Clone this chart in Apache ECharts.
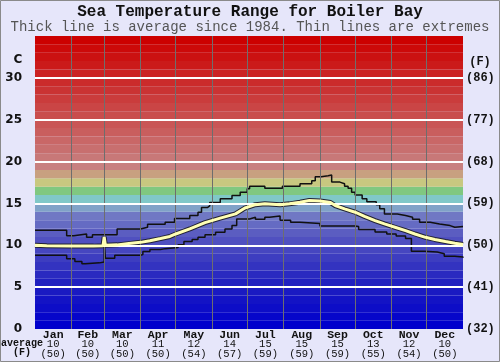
<!DOCTYPE html>
<html>
<head>
<meta charset="utf-8">
<script src="https://cdn.jsdelivr.net/npm/echarts@6/dist/echarts.min.js"></script>
<style>
html, body { margin: 0; padding: 0; background: #e6e6fa; }
#chart { width: 500px; height: 362px; }
</style>
</head>
<body>
<div id="chart"></div>
<script>
// month labels and the monthly averages printed under them
var months = ['Jan', 'Feb', 'Mar', 'Apr', 'May', 'Jun', 'Jul', 'Aug', 'Sep', 'Oct', 'Nov', 'Dec'];
var monthDays = [31, 28, 31, 30, 31, 30, 31, 31, 30, 31, 30, 31];
var avgC = [10, 10, 10, 11, 12, 14, 15, 15, 15, 13, 12, 10];
var avgF = [50, 50, 50, 50, 54, 57, 59, 59, 59, 55, 54, 50];

// right axis tick labels (F)
var fTicks = ['(32)', '(41)', '(50)', '(59)', '(68)', '(77)', '(86)'];

// [day of year, deg C]
var upperExtreme = [
    [0, 11.8], [27, 11.15], [33, 11.35], [44, 10.95], [49, 11.25], [70, 11.95],
    [90, 12.15], [96, 12.5], [111, 12.75], [119, 13.2], [132, 13.55], [139, 13.95],
    [142, 14.5], [147, 14.7], [149, 15.1], [158, 15.55], [168, 15.95], [175, 16.35],
    [181, 16.75], [183, 17.05], [196, 16.8], [211, 17.05], [226, 17.35], [236, 17.7],
    [239, 18.2], [244, 18.3], [250, 18.4], [253, 17.55], [260, 17.35], [264, 17.05],
    [267, 16.8], [270, 16.35], [273, 16.0], [279, 15.55], [283, 15.2], [291, 14.85],
    [294, 14.35], [298, 13.75], [309, 13.55], [316, 13.35], [322, 13.1], [328, 12.75],
    [337, 12.55], [345, 12.35], [354, 12.15], [358, 12.25], [365, 12.25]
];
var lowerExtreme = [
    [0, 8.8], [27, 8.4], [34, 8.05], [40, 7.8], [43, 7.9], [55, 8.0], [59, 10.6],
    [60, 8.45], [68, 8.8], [90, 8.9], [92, 9.25], [98, 9.5], [107, 9.6], [111, 9.75],
    [122, 10.05], [127, 10.45], [134, 10.7], [139, 10.95], [145, 11.25], [154, 11.55],
    [162, 11.95], [168, 12.35], [172, 13.15], [183, 13.35], [188, 13.1], [196, 13.35],
    [200, 13.5], [209, 13.0], [218, 12.75], [226, 12.6], [243, 12.3], [273, 12.25],
    [276, 11.9], [290, 11.6], [300, 11.35], [308, 11.1], [316, 10.8], [321, 9.3],
    [332, 9.2], [343, 9.0], [349, 8.7], [358, 8.6], [365, 8.5]
];
var averageLine = [
    [0, 10.0], [10, 9.95], [30, 9.9], [50, 9.9], [58, 9.95], [59, 11.0], [60, 10.0],
    [70, 10.05], [80, 10.2], [90, 10.35], [98, 10.55], [107, 10.8], [115, 11.05],
    [120, 11.35], [132, 11.95], [145, 12.7], [158, 13.25], [171, 13.75], [179, 14.45],
    [188, 14.85], [196, 14.95], [209, 14.85], [217, 14.95], [226, 15.15], [234, 15.35],
    [243, 15.3], [252, 15.1], [256, 14.75], [264, 14.35], [273, 13.95], [281, 13.45],
    [290, 12.95], [298, 12.55], [307, 12.15], [316, 11.75], [324, 11.35], [333, 10.95],
    [341, 10.7], [350, 10.45], [358, 10.25], [365, 10.1]
];

var chart = echarts.init(document.getElementById('chart'));

var monthStarts = [0];
var monthMids = [];
for (var i = 0; i < monthDays.length; i++) {
    monthMids.push(monthStarts[i] + monthDays[i] / 2);
    monthStarts.push(monthStarts[i] + monthDays[i]);
}

// 1 degree colour bands, blue at the bottom to red at the top
var anchors = [
    [0, [0, 0, 204]], [5, [32, 32, 192]], [10, [80, 80, 192]], [13, [112, 120, 196]],
    [14, [128, 162, 200]], [15, [128, 200, 200]], [16, [128, 200, 128]],
    [17, [200, 200, 128]], [18, [200, 160, 128]], [19, [200, 128, 128]],
    [20, [200, 120, 120]], [34, [204, 0, 0]]
];
var bandColors = [];
for (var b = 0; b < 35; b++) {
    var k = 0;
    while (k < anchors.length - 2 && anchors[k + 1][0] <= b) k++;
    var a0 = anchors[k], a1 = anchors[k + 1];
    var t = Math.min(1, Math.max(0, (b - a0[0]) / (a1[0] - a0[0])));
    var c = a0[1].map(function (v, j) { return Math.round(v + (a1[1][j] - v) * t); });
    bandColors.push('rgb(' + c.join(',') + ')');
}

var gridLines = [];
for (var m = 1; m < 12; m++) {
    gridLines.push({ xAxis: monthStarts[m], lineStyle: { color: '#6e6e6e', width: 1, type: 'solid' } });
}
[5, 10, 15, 20, 25, 30].forEach(function (v) {
    gridLines.push({ yAxis: v, lineStyle: { color: '#ffffff', width: 2, type: 'solid' } });
});

var mono = 'Liberation Mono';

option = {
    backgroundColor: '#e6e6fa',
    animation: false,
    title: {
        text: 'Sea Temperature Range for Boiler Bay',
        subtext: 'Thick line is average since 1984. Thin lines are extremes',
        left: 'center',
        top: 0,
        padding: [4, 5],
        itemGap: 0,
        textStyle: { fontFamily: mono, fontWeight: 'bold', fontSize: 16, color: '#111' },
        subtextStyle: { fontFamily: mono, fontSize: 14, color: '#555' }
    },
    grid: { left: 35, right: 37, top: 36, bottom: 33 },
    xAxis: {
        type: 'value',
        min: 0,
        max: 365,
        axisLine: { show: false },
        axisTick: { show: false },
        splitLine: { show: false },
        axisLabel: {
            customValues: monthMids,
            margin: 1,
            formatter: function (v) {
                var idx = 0, best = 1e9;
                monthMids.forEach(function (mv, j) {
                    if (Math.abs(mv - v) < best) { best = Math.abs(mv - v); idx = j; }
                });
                return '{m|' + months[idx] + '}\n{v|' + avgC[idx] + '}\n{v|(' + avgF[idx] + ')}';
            },
            rich: {
                m: { fontFamily: mono, fontWeight: 'bold', fontSize: 11.5, lineHeight: 9.5, color: '#111' },
                v: { fontFamily: mono, fontSize: 10.5, lineHeight: 9.5, color: '#111' }
            }
        }
    },
    yAxis: [
        {
            type: 'value', min: 0, max: 35, interval: 5, position: 'left',
            axisLine: { show: false }, axisTick: { show: false }, splitLine: { show: false },
            axisLabel: {
                margin: 13,
                fontFamily: 'DejaVu Sans', fontWeight: 'bold', fontSize: 12, color: '#111',
                formatter: function (v) { return v <= 30 ? String(v) : ''; }
            }
        },
        {
            type: 'value', min: 0, max: 35, interval: 5, position: 'right',
            axisLine: { show: false }, axisTick: { show: false }, splitLine: { show: false },
            axisLabel: {
                margin: 3,
                fontFamily: mono, fontWeight: 'bold', fontSize: 12, color: '#111',
                formatter: function (v) { return fTicks[v / 5] || ''; }
            }
        },
        {
            type: 'value', min: 0, max: 35, interval: 1, position: 'left',
            axisLine: { show: false }, axisTick: { show: false }, splitLine: { show: false },
            axisLabel: { show: false },
            splitArea: { show: true, areaStyle: { color: bandColors } }
        }
    ],
    graphic: [
        { type: 'rect', shape: { x: 0.5, y: 0.5, width: 499, height: 361 }, style: { fill: 'none', stroke: '#8a8a8a', lineWidth: 1 }, z: 100 },
        { type: 'text', x: 18, y: 60, style: { text: 'C', fontFamily: 'DejaVu Sans', fontWeight: 'bold', fontSize: 12, fill: '#111', align: 'center', verticalAlign: 'middle' } },
        { type: 'text', x: 480, y: 62, style: { text: '(F)', fontFamily: mono, fontWeight: 'bold', fontSize: 12, fill: '#111', align: 'center', verticalAlign: 'middle' } },
        { type: 'text', x: 22, y: 343, style: { text: 'average', fontFamily: mono, fontWeight: 'bold', fontSize: 10, fill: '#111', align: 'center', verticalAlign: 'middle' } },
        { type: 'text', x: 22, y: 352, style: { text: '(F)', fontFamily: mono, fontWeight: 'bold', fontSize: 10, fill: '#111', align: 'center', verticalAlign: 'middle' } }
    ],
    series: [
        {
            name: 'grid',
            type: 'line',
            data: [],
            z: 1,
            silent: true,
            markLine: { silent: true, symbol: ['none', 'none'], label: { show: false }, data: gridLines }
        },
        {
            name: 'upper',
            type: 'line',
            step: 'end',
            showSymbol: false,
            z: 3,
            lineStyle: { color: '#111', width: 1.5 },
            data: upperExtreme
        },
        {
            name: 'lower',
            type: 'line',
            step: 'end',
            showSymbol: false,
            z: 3,
            lineStyle: { color: '#111', width: 1.5 },
            data: lowerExtreme
        },
        {
            name: 'average outline',
            type: 'line',
            showSymbol: false,
            z: 4,
            lineStyle: { color: '#222233', width: 5 },
            data: averageLine
        },
        {
            name: 'average',
            type: 'line',
            showSymbol: false,
            z: 5,
            lineStyle: { color: '#ffffb4', width: 3 },
            data: averageLine
        }
    ]
};

chart.setOption(option);
</script>
</body>
</html>
